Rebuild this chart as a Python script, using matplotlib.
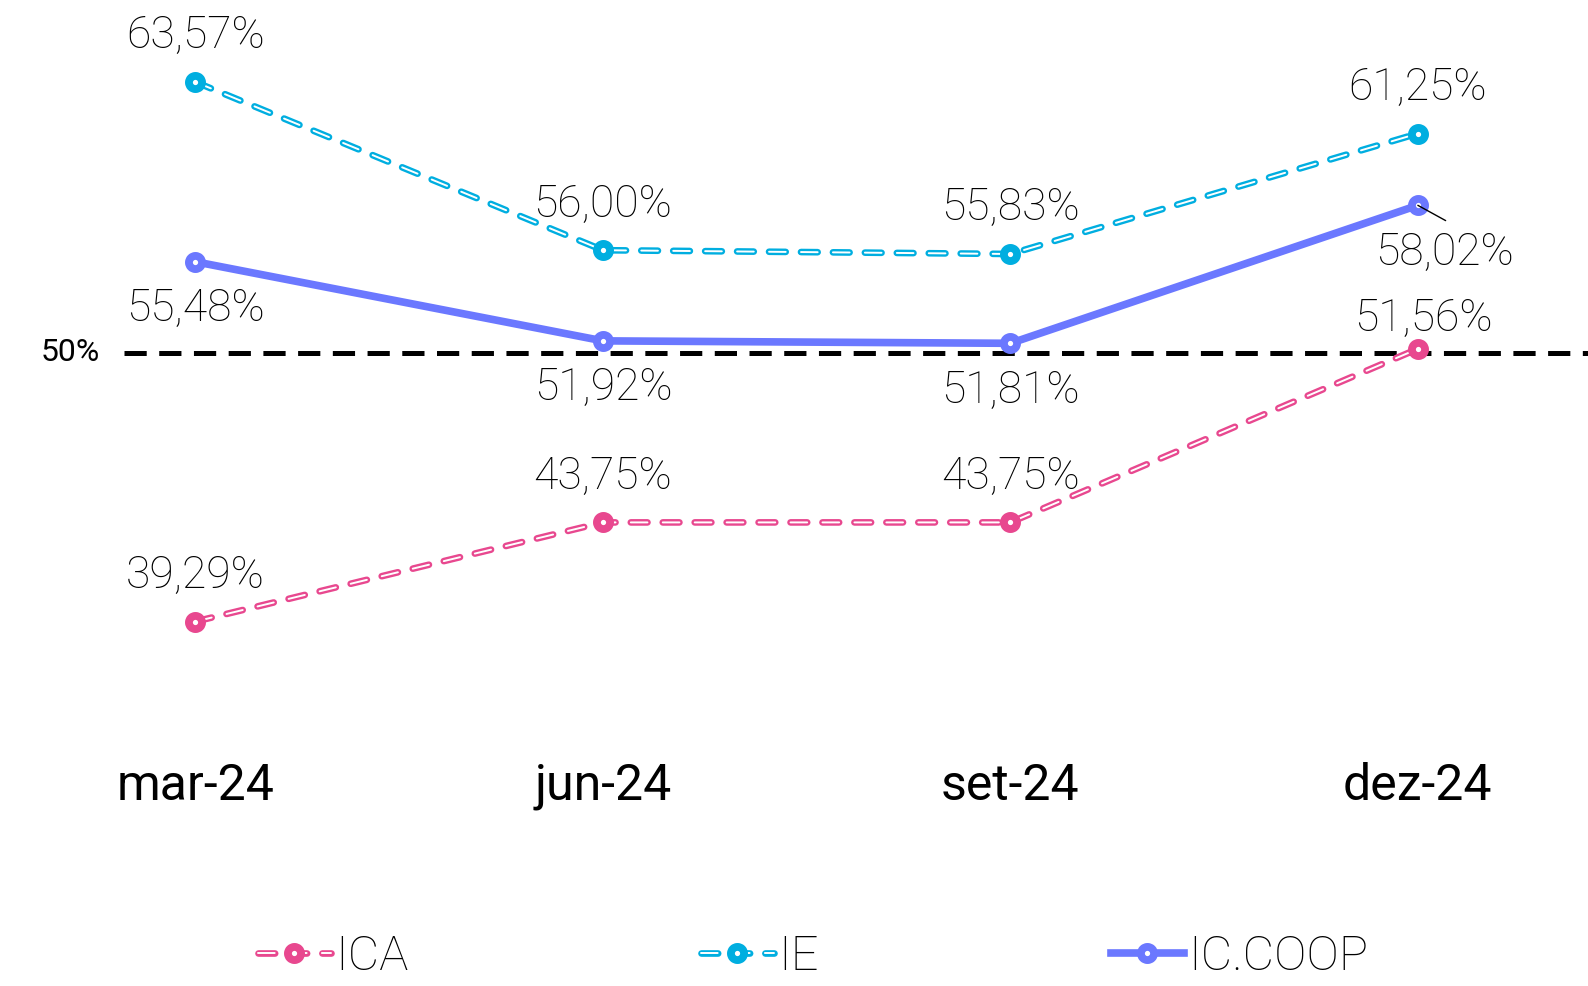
import matplotlib
matplotlib.use("Agg")
import matplotlib.pyplot as plt
import matplotlib.patheffects as pe
from matplotlib.legend_handler import HandlerTuple

plt.rcParams['font.family'] = ['Roboto', 'DejaVu Sans']
plt.rcParams['lines.scale_dashes'] = False

categories = ["mar-24", "jun-24", "set-24", "dez-24"]
ica = [39.29, 43.75, 43.75, 51.56]
ie = [63.57, 56.00, 55.83, 61.25]
icoop = [55.48, 51.92, 51.81, 58.02]
ref_value = 51.38
ref_label = "50%"

c_ica = "#E8488F"
c_ie = "#00AEE0"
c_coop = "#6B78FF"

W, H = 1568.0, 974.0   # layout reference frame
fig = plt.figure(figsize=(15.88, 9.86), dpi=100)
ax = fig.add_axes([0, 1 - 740 / H, 1, 740 / H])
x = list(range(len(categories)))

def fmt(v):
    return f"{v:.2f}%".replace(".", ",")

def dashed_outline(xs, ys, color):
    ln, = ax.plot(xs, ys, color=color, lw=4.8, linestyle=(0, (12, 11)),
                  dash_capstyle='round', zorder=3)
    ln.set_path_effects([pe.Normal(), pe.Stroke(linewidth=1.4, foreground='white')])
    return ln

def markers(xs, ys, color):
    m, = ax.plot(xs, ys, linestyle='none', marker='o', ms=9.5, mew=5.6,
                 mfc='white', mec=color, zorder=5)
    return m

# reference line
ax.axhline(ref_value, xmin=122 / W, xmax=1, color='black', lw=3.6,
           linestyle=(0, (16, 9)), zorder=2)

l_ica = dashed_outline(x, ica, c_ica)
m_ica = markers(x, ica, c_ica)
l_ie = dashed_outline(x, ie, c_ie)
m_ie = markers(x, ie, c_ie)
l_coop, = ax.plot(x, icoop, color=c_coop, lw=5.5, zorder=4)
m_coop = markers(x, icoop, c_coop)

sp = 402.33
ax.set_xlim(-193 / sp, 3 + (W - 1400) / sp)
ax.set_ylim(63.57 - 659 / 21.95, 63.57 + 81 / 21.95)

ax.text(-0.307, ref_value, ref_label, ha='center', va='center', fontsize=23,
        fontweight='normal')

lab_fs = 32
lw_ = 'light'
for xi, v in zip(x, ie):
    ax.annotate(fmt(v), (xi, v), xytext=(0, 33), textcoords='offset points',
                ha='center', va='center', fontsize=lab_fs, fontweight=lw_)
for xi, v in zip(x[:3], icoop[:3]):
    ax.annotate(fmt(v), (xi, v), xytext=(0, -34), textcoords='offset points',
                ha='center', va='center', fontsize=lab_fs, fontweight=lw_)
ax.annotate(fmt(icoop[3]), (x[3], icoop[3]), xytext=(19, -34),
            textcoords='offset points', ha='center', va='center',
            fontsize=lab_fs, fontweight=lw_)
ax.annotate("", (x[3], icoop[3]), xytext=(20, -11), textcoords='offset points',
            arrowprops=dict(arrowstyle='-', color='black', lw=1, shrinkA=0, shrinkB=0),
            zorder=6)
for xi, v in zip(x[:3], ica[:3]):
    ax.annotate(fmt(v), (xi, v), xytext=(0, 33), textcoords='offset points',
                ha='center', va='center', fontsize=lab_fs, fontweight=lw_)
ax.annotate(fmt(ica[3]), (x[3], ica[3]), xytext=(4, 22), textcoords='offset points',
            ha='center', va='center', fontsize=lab_fs, fontweight=lw_)

ax.set_xticks(x)
ax.set_xticklabels(categories, fontsize=36, fontweight='normal')
ax.tick_params(axis='x', length=0, pad=9)
ax.set_yticks([])
for s in ax.spines.values():
    s.set_visible(False)

handles = [(l_ica, m_ica), (l_ie, m_ie), (l_coop, m_coop)]
fig.legend(handles, ["ICA", "IE", "IC.COOP"], loc='center',
           bbox_to_anchor=(803 / W, 1 - 945 / H), ncol=3, frameon=False,
           handlelength=1.5, handletextpad=0.1, columnspacing=6.0,
           handler_map={tuple: HandlerTuple(ndivide=1)},
           prop={'weight': 'light', 'size': 35}, borderpad=0.2)

fig.savefig("out.png", dpi=100)
